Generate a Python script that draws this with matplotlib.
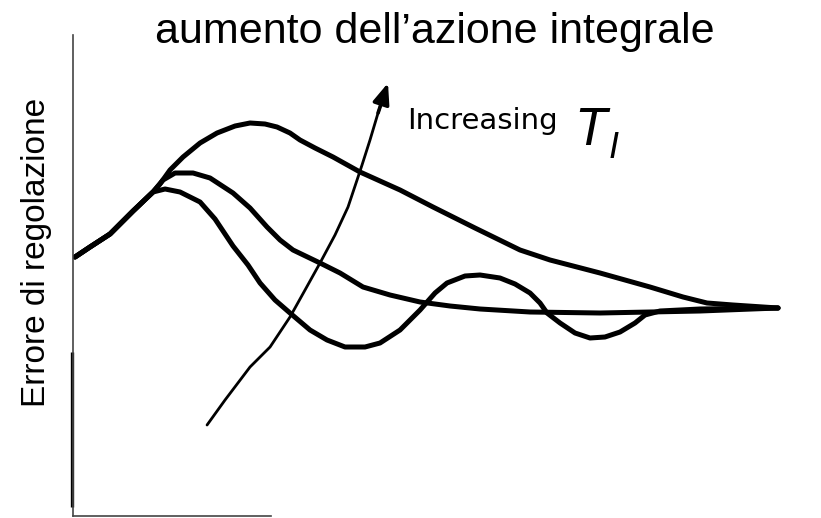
import matplotlib
matplotlib.use("Agg")
import matplotlib.pyplot as plt

# Closed-loop error response for three values of the integral time T_I
# (time on x, regulation error on y; the error settles to zero)
t_rise = [0.0, 0.214, 0.5, 0.829, 1.114]
e_rise = [0.51, 0.61, 0.74, 0.97, 1.16]

# fastest integral action (most oscillatory)
t_fast = [1.286, 1.5, 1.786, 2.0, 2.257, 2.471, 2.643, 2.857, 3.071, 3.357, 3.6,
          3.857, 4.143, 4.357, 4.643, 4.929, 5.143, 5.314, 5.571, 5.786, 6.071,
          6.286, 6.5, 6.643, 6.743, 6.929, 7.143, 7.357, 7.571, 7.786, 8.0,
          8.143, 8.357, 8.929, 10.043]
e_fast = [1.19, 1.16, 1.06, 0.89, 0.62, 0.43, 0.25, 0.08, -0.05, -0.22, -0.32,
          -0.39, -0.39, -0.35, -0.22, -0.02, 0.15, 0.25, 0.32, 0.33, 0.30,
          0.24, 0.15, 0.05, -0.05, -0.15, -0.25, -0.30, -0.29, -0.24, -0.15,
          -0.07, -0.03, -0.01, 0.0]

# intermediate integral action
t_mid = [1.257, 1.429, 1.686, 1.929, 2.257, 2.5, 2.743, 2.929, 3.114, 3.5, 3.786,
         4.114, 4.5, 4.929, 5.357, 5.786, 6.5, 7.5, 8.929, 10.043]
e_mid = [1.28, 1.35, 1.35, 1.30, 1.15, 1.00, 0.81, 0.68, 0.58, 0.45, 0.35,
         0.21, 0.13, 0.06, 0.02, -0.01, -0.04, -0.05, -0.03, 0.0]

# slowest integral action (largest T_I)
t_slow = [1.214, 1.357, 1.543, 1.786, 2.029, 2.286, 2.5, 2.714, 2.886, 3.071,
          3.214, 3.429, 3.686, 4.071, 4.643, 5.114, 5.714, 6.357, 6.786, 7.5,
          8.214, 8.686, 9.029, 9.4, 10.043]
e_slow = [1.24, 1.38, 1.51, 1.65, 1.75, 1.82, 1.85, 1.84, 1.81, 1.75,
          1.68, 1.60, 1.51, 1.36, 1.18, 1.01, 0.80, 0.58, 0.48, 0.35,
          0.21, 0.11, 0.05, 0.03, 0.0]

# direction of increasing T_I
t_arrow = [1.886, 2.143, 2.5, 2.786, 3.071, 3.286, 3.5, 3.714, 3.9, 4.029,
           4.1, 4.214, 4.329, 4.414]
e_arrow = [-1.17, -0.92, -0.59, -0.39, -0.09, 0.18, 0.45, 0.73, 1.01, 1.28,
           1.43, 1.68, 1.95, 2.13]
arrow_tip = (4.471, 2.25)

title = "aumento dell\u2019azione integrale"
ylabel = "Errore di regolazione"
arrow_label = "Increasing"

W, H = 821, 518
fig = plt.figure(figsize=(W / 100, H / 100), dpi=100)
fig.patch.set_facecolor("white")

ax = fig.add_axes([73 / W, 2 / H, (W - 73) / W, 516 / H])
ax.set_xlim(-0.029, 10.657)
ax.set_ylim(-2.08, 3.08)
ax.set_xticks([])
ax.set_yticks([])
for side in ("top", "right"):
    ax.spines[side].set_visible(False)
ax.spines["left"].set_color("#444444")
ax.spines["left"].set_linewidth(1.2)
ax.spines["left"].set_bounds(-2.08, 2.73)
ax.spines["bottom"].set_color("#444444")
ax.spines["bottom"].set_linewidth(1.2)
ax.spines["bottom"].set_bounds(-0.029, 2.8)

# darker stretch along the lower part of the error axis
ax.plot([-0.043, -0.043], [-0.44, -1.99], color="black", lw=2.4,
        solid_capstyle="butt", clip_on=False)

style = dict(color="black", lw=3.6, solid_capstyle="round", solid_joinstyle="round")
ax.plot(t_rise + t_fast, e_rise + e_fast, **style)
ax.plot(t_rise + t_mid, e_rise + e_mid, **style)
ax.plot(t_rise + t_slow, e_rise + e_slow, **style)

ax.plot(t_arrow, e_arrow, color="black", lw=2.0, solid_capstyle="round")
ax.annotate("", xy=arrow_tip, xytext=(t_arrow[-2], e_arrow[-2]),
            arrowprops=dict(arrowstyle="-|>,head_length=1.25,head_width=0.5",
                            color="black", lw=2.6, shrinkA=0, shrinkB=0))

fig.text(435 / W, 1 - 43 / H, title, ha="center", va="baseline",
         fontsize=31, family="Liberation Sans")
fig.text(36 / W, 1 - 252 / H, ylabel, ha="center", va="center", rotation=90,
         fontsize=24, family="Liberation Sans")
fig.text(407 / W, 1 - 129 / H, arrow_label, ha="left", va="baseline",
         fontsize=21, family="DejaVu Sans")
fig.text(574 / W, 1 - 145 / H, "T", ha="left", va="baseline",
         fontsize=38, family="Liberation Sans", style="italic")
fig.text(609 / W, 1 - 158 / H, "I", ha="left", va="baseline",
         fontsize=26, family="Liberation Sans", style="italic")

fig.savefig("out.png", dpi=100, facecolor="white")
